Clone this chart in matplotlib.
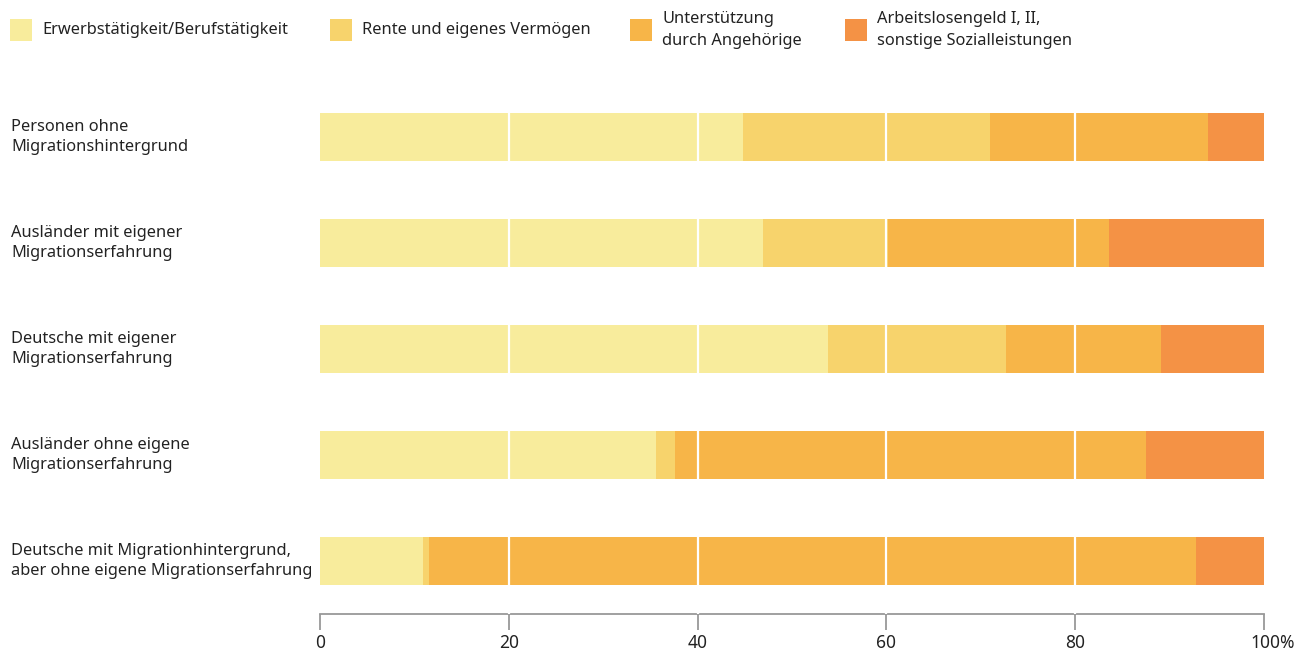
import matplotlib
matplotlib.use("Agg")
import matplotlib.pyplot as plt
import matplotlib.transforms as mtransforms
from matplotlib.patches import Rectangle
import numpy as np

plt.rcParams['font.family'] = ['Noto Sans', 'DejaVu Sans']

categories = [
    "Personen ohne\nMigrationshintergrund",
    "Ausländer mit eigener\nMigrationserfahrung",
    "Deutsche mit eigener\nMigrationserfahrung",
    "Ausländer ohne eigene\nMigrationserfahrung",
    "Deutsche mit Migrationhintergrund,\naber ohne eigene Migrationserfahrung",
]
series_names = [
    "Erwerbstätigkeit/Berufstätigkeit",
    "Rente und eigenes Vermögen",
    "Unterstützung\ndurch Angehörige",
    "Arbeitslosengeld I, II,\nsonstige Sozialleistungen",
]
erwerb = [44.8, 46.9, 53.8, 35.6, 10.9]
rente = [26.2, 13.3, 18.9, 2.0, 0.6]
unterst = [23.1, 23.4, 16.4, 49.9, 81.3]
arbeitslos = [5.9, 16.4, 10.9, 12.5, 7.2]
tick_values = [0, 20, 40, 60, 80, 100]
tick_labels = ["0", "20", "40", "60", "80", "100%"]

colors = ["#F8EC9C", "#F7D36C", "#F7B548", "#F49245"]

W, H = 1298, 653
fig = plt.figure(figsize=(W / 100, H / 100), dpi=100)
ax = fig.add_axes([320 / W, 1 - 614 / H, 944 / W, 530 / H])

y = np.arange(len(categories))
left = np.zeros(len(categories))
for vals, col in zip([erwerb, rente, unterst, arbeitslos], colors):
    ax.barh(y, vals, left=left, height=0.455, color=col, zorder=1, linewidth=0)
    left += np.array(vals)

for gx in [20, 40, 60, 80]:
    ax.axvline(gx, color="white", linewidth=1.6, zorder=3)

ax.set_xlim(0, 100)
ax.set_ylim(len(categories) - 0.5, -0.5)
ax.set_yticks([])
ax.set_xticks(tick_values)
ax.set_xticklabels(tick_labels)
for s in ["top", "right", "left"]:
    ax.spines[s].set_visible(False)
ax.spines["bottom"].set_color("#999999")
ax.spines["bottom"].set_linewidth(1.3)
ax.tick_params(axis="x", direction="out", length=11.5, width=1.3, color="#999999",
               labelsize=12.5, labelcolor="#222222", pad=3)
lbls = ax.get_xticklabels()
offset = mtransforms.ScaledTranslation(9 / 100, 0, fig.dpi_scale_trans)
lbls[-1].set_transform(lbls[-1].get_transform() + offset)

trans = mtransforms.blended_transform_factory(fig.transFigure, ax.transData)
for yi, cat in zip(y, categories):
    ax.text(11 / W, yi, cat, transform=trans, ha="left", va="center",
            fontsize=11.8, color="#222222", linespacing=1.38)

# legend
leg_x = [10, 330, 630, 845]
for lx, name, col in zip(leg_x, series_names, colors):
    fig.patches.append(Rectangle((lx / W, 1 - 41 / H), 22 / W, 22 / H,
                                 transform=fig.transFigure, color=col, linewidth=0))
    fig.text((lx + 32) / W, 1 - 30 / H, name, ha="left", va="center",
             fontsize=11.8, color="#222222", linespacing=1.5)

fig.savefig("out.png", dpi=100)
